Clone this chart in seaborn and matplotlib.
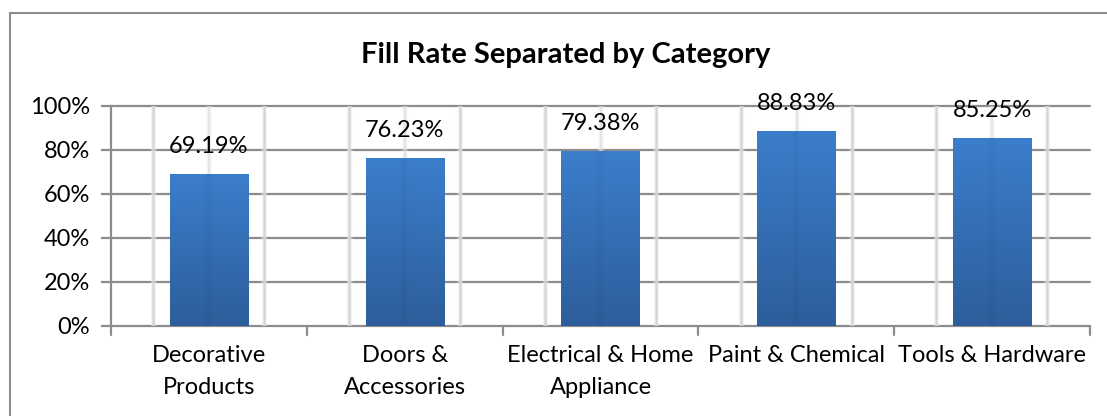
import numpy as np
import pandas as pd
import matplotlib
matplotlib.use("Agg")
import matplotlib.pyplot as plt
import matplotlib.patches as mpatches
from matplotlib.colors import LinearSegmentedColormap
import seaborn as sns

categories = ["Decorative\nProducts", "Doors &\nAccessories", "Electrical & Home\nAppliance",
              "Paint & Chemical", "Tools & Hardware"]
fill_rate = [0.6919, 0.7623, 0.7938, 0.8883, 0.8525]
value_labels = ["69.19%", "76.23%", "79.38%", "88.83%", "85.25%"]
y_ticks = [0.0, 0.2, 0.4, 0.6, 0.8, 1.0]
y_tick_labels = ["0%", "20%", "40%", "60%", "80%", "100%"]
title = "Fill Rate Separated by Category"

sns.set_theme(style="white")
plt.rcParams["font.family"] = ["Lato", "DejaVu Sans"]

W, H = 1107, 416
fig = plt.figure(figsize=(W / 100, H / 100), dpi=100)
fig.patch.set_facecolor("white")

# chart frame (runs off the right and bottom edges)
fig.add_artist(mpatches.Rectangle((10 / W, -0.05), 1.2, (H - 13) / H + 0.05,
                                  transform=fig.transFigure, fill=False,
                                  edgecolor="#8c8c8c", linewidth=1.5))

ax = fig.add_axes([111 / W, 90 / H, (1090 - 111) / W, 220 / H])
df = pd.DataFrame({"category": categories, "rate": fill_rate})
sns.barplot(data=df, x="category", y="rate", width=0.4, color="#3a7bc8",
            ax=ax, zorder=3, linewidth=0)

ax.set_xlim(-0.5, 4.5)
ax.set_ylim(0, 1.0)

grid_c = "#8c8c8c"
for y in y_ticks:
    ax.axhline(y, color=grid_c, linewidth=1.6, zorder=1, clip_on=False)

# soft column shadows behind bars
prof_x = np.linspace(-1, 1, 300)
prof = (np.exp(-((prof_x + 0.96) / 0.04) ** 2) + np.exp(-((prof_x - 0.96) / 0.04) ** 2)
        + 0.8 * np.exp(-((prof_x) / 0.04) ** 2))
shadow_cmap = LinearSegmentedColormap.from_list("sh", [(1, 1, 1, 0), (0.82, 0.82, 0.82, 1)])
for i in range(len(categories)):
    ax.imshow(prof[np.newaxis, :], cmap=shadow_cmap, vmin=0, vmax=1.0, aspect="auto",
              extent=(i - 0.295, i + 0.295, 0, 1.0), zorder=2, interpolation="bilinear")

# gradient fill for bars: lighter at top, darker at bottom, darker stripe at centre
bar_cmap = LinearSegmentedColormap.from_list("bar", ["#2c5a96", "#3b7ecb"])
gx = np.linspace(-1, 1, 120)
gy = np.linspace(0, 1, 200)
stripe = 0.12 * np.exp(-((gx + 0.02) / 0.08) ** 2)
for patch in ax.patches:
    if not isinstance(patch, mpatches.Rectangle) or patch.get_height() <= 0:
        continue
    x0, w, h = patch.get_x(), patch.get_width(), patch.get_height()
    grad = gy[:, None] * 0.9 + 0.1 - stripe[None, :]
    im = ax.imshow(grad, cmap=bar_cmap, vmin=0, vmax=1, aspect="auto", origin="lower",
                   extent=(x0, x0 + w, 0, h), zorder=4, interpolation="bilinear")
    im.set_clip_path(patch)
    patch.set_facecolor("none")

for i, (v, lab) in enumerate(zip(fill_rate, value_labels)):
    ax.text(i, v + 0.125, lab, ha="center", va="center", fontsize=17, color="black",
            zorder=6, clip_on=False)

for s in ["top", "right", "bottom"]:
    ax.spines[s].set_visible(False)
ax.spines["left"].set_color(grid_c)
ax.spines["left"].set_linewidth(1.6)
ax.spines["left"].set_zorder(1)

ax.set_yticks(y_ticks)
ax.set_yticklabels(y_tick_labels, fontsize=17, color="black")
ax.tick_params(axis="y", which="both", left=True, length=7, width=1.6, color=grid_c, pad=8)

ax.set_xticks(range(len(categories)))
ax.set_xticklabels(categories, fontsize=17, color="black", linespacing=1.6)
ax.tick_params(axis="x", length=0, pad=14)
for b in np.arange(-0.5, 4.6, 1.0):
    ax.plot([b, b], [0, -0.04], color=grid_c, linewidth=1.6, clip_on=False, zorder=1)
ax.set_xlabel("")
ax.set_ylabel("")
ax.grid(False)

fig.text(566 / W, 1 - 55 / H, title, ha="center", va="center", fontsize=21,
         fontweight="bold", color="black")

fig.savefig("out.png", dpi=100, facecolor="white")
